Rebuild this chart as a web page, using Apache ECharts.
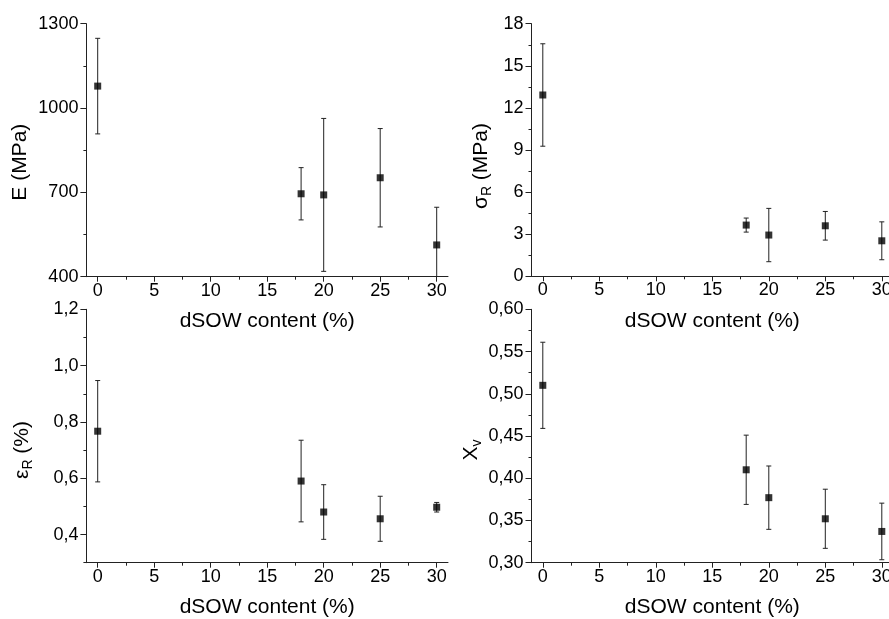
<!DOCTYPE html>
<html><head><meta charset="utf-8">
<script src="https://cdn.jsdelivr.net/npm/echarts@6/dist/echarts.min.js"></script>
<style>html,body{margin:0;padding:0;background:#fff}#c{width:889px;height:619px}</style>
</head><body><div id="c"></div>
<script>
// ---- data ----
const dsowContent = [0, 18, 20, 25, 30];
const modulusE = [1078, 695, 691, 752, 513];
const modulusErr = [170, 93, 272, 175, 134];
const stressR = [12.92, 3.65, 2.94, 3.6, 2.53];
const stressErr = [3.65, 0.5, 1.9, 1.02, 1.35];
const strainR = [0.767, 0.59, 0.48, 0.456, 0.497];
const strainErr = [0.18, 0.145, 0.097, 0.08, 0.017];
const xvValues = [0.51, 0.41, 0.377, 0.352, 0.337];
const xvErr = [0.051, 0.041, 0.0375, 0.035, 0.0335];

const xTicks = [0, 5, 10, 15, 20, 25, 30];
const xMinorTicks = [2.5, 7.5, 12.5, 17.5, 22.5, 27.5];
const eTicks = [400, 700, 1000, 1300];
const eMinorTicks = [550, 850, 1150];
const sTicks = [0, 3, 6, 9, 12, 15, 18];
const sMinorTicks = [1.5, 4.5, 7.5, 10.5, 13.5, 16.5];
const epsTicks = [0.4, 0.6, 0.8, 1.0, 1.2];
const epsMinorTicks = [0.3, 0.5, 0.7, 0.9, 1.1];
const xvTicks = [0.30, 0.35, 0.40, 0.45, 0.50, 0.55, 0.60];
const xvMinorTicks = [0.325, 0.375, 0.425, 0.475, 0.525, 0.575];
const xName = 'dSOW content (%)';

// ---- layout / styles ----
const FONT = 'Liberation Sans, Arial, sans-serif';
const AX = '#222';
const panels = [
  {grid:{left:86.4, top:23.7, width:361.6, height:253}, vals:modulusE, err:modulusErr,
   yMin:400, yMax:1300, ticks:eTicks, minor:eMinorTicks, dec:0,
   name:'{a|E (MPa)}', nameGap:53, shift:12},
  {grid:{left:531.5, top:23.7, width:361.6, height:252.6}, vals:stressR, err:stressErr,
   yMin:0, yMax:18, ticks:sTicks, minor:sMinorTicks, dec:0,
   name:'{a|σ}{s|R}{a| (MPa)}', nameGap:37, shift:16},
  {grid:{left:86.4, top:309.3, width:361.6, height:253.4}, vals:strainR, err:strainErr,
   yMin:0.3, yMax:1.2, ticks:epsTicks, minor:epsMinorTicks, dec:1,
   name:'{a|ε}{s|R}{a| (%)}', nameGap:51, shift:14},
  {grid:{left:531.5, top:309.3, width:361.6, height:253.4}, vals:xvValues, err:xvErr,
   yMin:0.3, yMax:0.6, ticks:xvTicks, minor:xvMinorTicks, dec:2,
   name:'{a|X}{s|v}', nameGap:47, shift:14}
];

const rich = {
  a:{fontSize:21, fontFamily:FONT, color:'#000', lineHeight:24, verticalAlign:'top'},
  s:{fontSize:14, fontFamily:FONT, color:'#000', lineHeight:14, verticalAlign:'bottom', padding:[14,0,0,0]}
};

const grids = [], xAxes = [], yAxes = [], series = [];
panels.forEach((p, i) => {
  grids.push(Object.assign({outerBoundsMode:'none', containLabel:false}, p.grid));
  xAxes.push({
    type:'value', gridIndex:i, position:'bottom', min:-1, max:31,
    axisLine:{show:true, onZero:false, lineStyle:{color:AX, width:1}},
    axisTick:{show:true, customValues:xTicks, length:5, lineStyle:{color:AX}},
    axisLabel:{customValues:xTicks, margin:5, fontSize:18, fontFamily:FONT, color:'#000'},
    splitLine:{show:false},
    name:xName, nameLocation:'middle', nameGap:34,
    nameTextStyle:{fontSize:21, fontFamily:FONT, color:'#000'}
  });
  xAxes.push({
    type:'value', gridIndex:i, position:'bottom', offset:0, min:-1, max:31,
    axisLine:{show:false, onZero:false},
    axisTick:{show:true, customValues:xMinorTicks, length:3, lineStyle:{color:AX}},
    axisLabel:{show:false}, splitLine:{show:false}
  });
  yAxes.push({
    type:'value', gridIndex:i, position:'left', min:p.yMin, max:p.yMax,
    axisLine:{show:true, onZero:false, lineStyle:{color:AX, width:1}},
    axisTick:{show:true, customValues:p.ticks, length:6, lineStyle:{color:AX}},
    axisLabel:{customValues:p.ticks, margin:8, fontSize:18, fontFamily:FONT, color:'#000',
      formatter:(v)=>Number(v).toFixed(p.dec).replace('.', ',')},
    splitLine:{show:false},
    name:p.name, nameLocation:'middle', nameGap:p.nameGap, nameRotate:90,
    nameTextStyle:{fontSize:21, fontFamily:FONT, color:'#000', rich:rich, padding:[0, 2*p.shift, 0, 0]}
  });
  yAxes.push({
    type:'value', gridIndex:i, position:'left', offset:0, min:p.yMin, max:p.yMax,
    axisLine:{show:false, onZero:false},
    axisTick:{show:true, customValues:p.minor, length:3, lineStyle:{color:AX}},
    axisLabel:{show:false}, splitLine:{show:false}
  });
  series.push({
    type:'custom', xAxisIndex:2*i, yAxisIndex:2*i, z:2,
    data:dsowContent.map((x, j) => [x, p.vals[j], p.err[j]]),
    encode:{x:0, y:1},
    renderItem:(params, api) => {
      const x = api.value(0), v = api.value(1), e = api.value(2);
      const cs = params.coordSys;
      const top = api.coord([x, v + e]);
      const bot = api.coord([x, v - e]);
      const y0 = cs.y, y1 = cs.y + cs.height;
      const ty = Math.max(top[1], y0), by = Math.min(bot[1], y1);
      const hw = 2.5;
      const style = {stroke:'#222', lineWidth:1, fill:null};
      const ch = [{type:'line', shape:{x1:top[0], y1:ty, x2:top[0], y2:by}, style}];
      if (top[1] >= y0) ch.push({type:'line', shape:{x1:top[0]-hw, y1:top[1], x2:top[0]+hw, y2:top[1]}, style});
      if (bot[1] <= y1) ch.push({type:'line', shape:{x1:bot[0]-hw, y1:bot[1], x2:bot[0]+hw, y2:bot[1]}, style});
      return {type:'group', children:ch};
    },
    silent:true, animation:false
  });
  series.push({
    type:'scatter', xAxisIndex:2*i, yAxisIndex:2*i, z:3,
    data:dsowContent.map((x, j) => [x, p.vals[j]]),
    symbol:'rect', symbolSize:7, itemStyle:{color:'#000'},
    silent:true, animation:false
  });
});

const chart = echarts.init(document.getElementById('c'), null, {renderer:'canvas'});
chart.setOption({
  backgroundColor:'#fff', animation:false,
  grid:grids, xAxis:xAxes, yAxis:yAxes, series:series
});
</script>
</body></html>
